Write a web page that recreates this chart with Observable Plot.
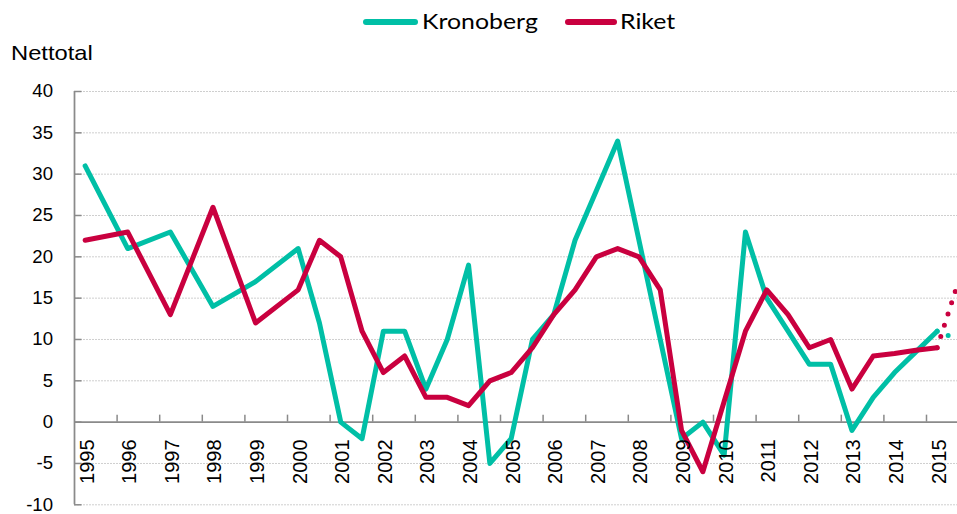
<!DOCTYPE html>
<html>
<head>
<meta charset="utf-8">
<script src="https://cdn.jsdelivr.net/npm/d3@7"></script>
<script src="https://cdn.jsdelivr.net/npm/@observablehq/plot@0.6"></script>
<style>
  html, body { margin: 0; padding: 0; background: #fff; overflow: hidden; width: 957px; height: 514px; }
  #head { position: relative; width: 957px; height: 70px; }
  .sw { position: absolute; height: 6px; border-radius: 3px; top: 19px; }
  .lg { position: absolute; font-family: Lato, "Open Sans", sans-serif; font-size: 22px; line-height: 22px; top: 10px; color: #000; transform-origin: left center; transform: scaleX(1.13); white-space: nowrap; }
  #ytitle { position: absolute; left: 11px; top: 42px; font-family: "Liberation Sans", Arial, sans-serif; font-size: 21px; line-height: 21px; transform-origin: left center; transform: scaleX(1.13); color: #000; }
  svg { overflow: hidden; display: block; }
</style>
</head>
<body>
<div id="head">
  <div class="sw" style="left:363px;width:55px;background:#00BFA6"></div>
  <div class="lg" style="left:422px">Kronoberg</div>
  <div class="sw" style="left:565px;width:52px;background:#C9003F"></div>
  <div class="lg" style="left:620px">Riket</div>
  <div id="ytitle">Nettotal</div>
</div>
<script>
// Periods: annual 1995–1999, half-yearly from 2000 (x.5 = second half)
const periods = [1995, 1996, 1997, 1998, 1999,
  2000, 2000.5, 2001, 2001.5, 2002, 2002.5, 2003, 2003.5, 2004, 2004.5,
  2005, 2005.5, 2006, 2006.5, 2007, 2007.5, 2008, 2008.5, 2009, 2009.5,
  2010, 2010.5, 2011, 2011.5, 2012, 2012.5, 2013, 2013.5, 2014, 2014.5, 2015];

const kronoberg = [31, 21, 23, 14, 17,
  21, 12, 0, -2, 11, 11, 4, 10, 19, -5,
  -2, 10, 13, 22, 28, 34, 22, 10, -2, 0,
  -4, 23, 15, 11, 7, 7, -1, 3, 6, 8.5, 11];

const riket = [22, 23, 13, 26, 12,
  16, 22, 20, 11, 6, 8, 3, 3, 2, 5,
  6, 9, 13, 16, 20, 21, 20, 16, -1, -6,
  2.5, 11, 16, 13, 9, 10, 4, 8, 8.3, 8.7, 9];

// Forecast (dotted)
const forecastPeriods = [2015, 2015.5];
const kronobergForecast = [11, 10];
const riketForecast = [9, 17];

const yearLabels = ["1995","1996","1997","1998","1999","2000","2001","2002","2003","2004","2005",
  "2006","2007","2008","2009","2010","2011","2012","2013","2014","2015"];
const yTicks = [-10, -5, 0, 5, 10, 15, 20, 25, 30, 35, 40];

const teal = "#00BFA6", crimson = "#C9003F", axisGray = "#8a8a8a";
const xStart = 1994.75, xEnd = 2015.75;
const tickBounds = yearLabels.slice(1).map(y => +y - 0.25).concat([xEnd]);

const chart = Plot.plot({
  width: 957,
  height: 444,
  marginLeft: 74,
  marginRight: 0,
  marginTop: 21,
  marginBottom: 9.7,
  x: {type: "linear", domain: [xStart, xEnd], range: [74, 968.6], axis: null},
  y: {domain: [-10, 40], axis: null},
  marks: [
    Plot.ruleY(yTicks.filter(d => d !== 0), {y: d => d, stroke: "#cfcfcf", strokeWidth: 1, strokeDasharray: "2,1"}),
    Plot.ruleY(yTicks, {y: d => d, x1: xStart, x2: xStart, insetRight: -7.5, stroke: axisGray, strokeWidth: 1.5}),
    Plot.ruleX(tickBounds, {x: d => d, y1: 0, y2: 0, insetTop: -7, stroke: axisGray, strokeWidth: 1.5}),
    Plot.ruleX([xStart], {x: d => d, y1: -10, y2: 40, stroke: axisGray, strokeWidth: 1.75}),
    Plot.ruleY([0], {y: d => d, stroke: axisGray, strokeWidth: 1.75}),
    Plot.line(periods, {x: d => d, y: (d, i) => kronoberg[i], stroke: teal, strokeWidth: 5, strokeLinejoin: "round", strokeLinecap: "round"}),
    Plot.line(forecastPeriods, {x: d => d, y: (d, i) => kronobergForecast[i], stroke: teal, strokeWidth: 5, strokeDasharray: "0,11.8", strokeLinecap: "round"}),
    Plot.line(periods, {x: d => d, y: (d, i) => riket[i], stroke: crimson, strokeWidth: 5, strokeLinejoin: "round", strokeLinecap: "round"}),
    Plot.line(forecastPeriods, {x: d => d, y: (d, i) => riketForecast[i], stroke: crimson, strokeWidth: 5, strokeDasharray: "0,11.8", strokeLinecap: "round"}),
    Plot.text(yTicks, {y: d => d, text: d => String(d), frameAnchor: "left", textAnchor: "end", dx: -21.5,
      fontSize: 18.6, fontFamily: "Liberation Sans, Arial, sans-serif", fill: "#000", ariaLabel: "ylab"}),
    Plot.text(yearLabels, {x: d => +d, y: 0, text: d => d, rotate: -90, textAnchor: "end", lineAnchor: "middle",
      dy: 17.3, dx: 2, fontSize: 20, fontFamily: "Liberation Sans, Arial, sans-serif", fill: "#000", ariaLabel: "xlab"})
  ]
});

function stretch(sel, s) {
  d3.select(chart).selectAll(sel).each(function() {
    const t = this.getAttribute("transform") || "";
    this.setAttribute("transform", t + " " + s);
  });
}
stretch('g[aria-label="ylab"] text', "scale(1.16,1)");
stretch('g[aria-label="xlab"] text', "scale(1,1.17)");

document.body.appendChild(chart);
</script>
</body>
</html>
